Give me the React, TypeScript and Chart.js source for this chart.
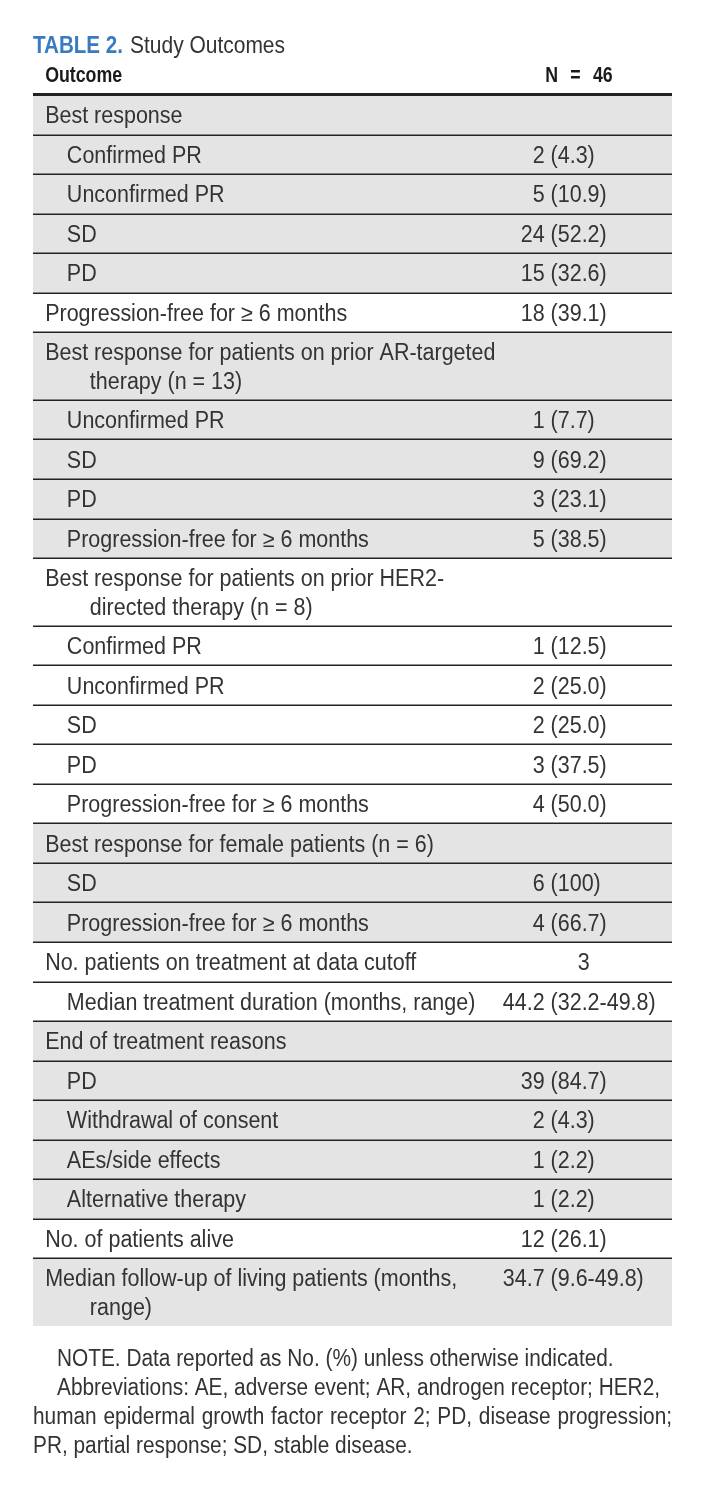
import React, { useEffect, useRef } from "react";
import { Chart, registerables } from "chart.js";

Chart.register(...registerables);

const tableNumber = "TABLE 2.";
const tableTitle = "Study Outcomes";
const columnHeaders = ["Outcome", "N = 46"];

const outcomeLabels = [
  "Best response",
  "Confirmed PR",
  "Unconfirmed PR",
  "SD",
  "PD",
  "Progression-free for ≥ 6 months",
  "Best response for patients on prior AR-targeted\ntherapy (n = 13)",
  "Unconfirmed PR",
  "SD",
  "PD",
  "Progression-free for ≥ 6 months",
  "Best response for patients on prior HER2-\ndirected therapy (n = 8)",
  "Confirmed PR",
  "Unconfirmed PR",
  "SD",
  "PD",
  "Progression-free for ≥ 6 months",
  "Best response for female patients (n = 6)",
  "SD",
  "Progression-free for ≥ 6 months",
  "No. patients on treatment at data cutoff",
  "Median treatment duration (months, range)",
  "End of treatment reasons",
  "PD",
  "Withdrawal of consent",
  "AEs/side effects",
  "Alternative therapy",
  "No. of patients alive",
  "Median follow-up of living patients (months,\nrange)",
];

const outcomeValues = [
  "", "2 (4.3)", "5 (10.9)", "24 (52.2)", "15 (32.6)",
  "18 (39.1)",
  "", "1 (7.7)", "9 (69.2)", "3 (23.1)", "5 (38.5)",
  "", "1 (12.5)", "2 (25.0)", "2 (25.0)", "3 (37.5)", "4 (50.0)",
  "", "6 (100)", "4 (66.7)",
  "3", "44.2 (32.2-49.8)",
  "", "39 (84.7)", "2 (4.3)", "1 (2.2)", "1 (2.2)",
  "12 (26.1)",
  "34.7 (9.6-49.8)",
];

// indentation level of each row (0 = section heading, 1 = sub-item)
const outcomeLevels = [0, 1, 1, 1, 1, 0, 0, 1, 1, 1, 1, 0, 1, 1, 1, 1, 1, 0, 1, 1, 0, 1, 0, 1, 1, 1, 1, 0, 0];
// section each row belongs to (sections alternate shading)
const outcomeSections = [0, 0, 0, 0, 0, 1, 2, 2, 2, 2, 2, 3, 3, 3, 3, 3, 3, 4, 4, 4, 5, 5, 6, 6, 6, 6, 6, 7, 8];

const footnoteLines = [
  "NOTE. Data reported as No. (%) unless otherwise indicated.",
  "Abbreviations: AE, adverse event; AR, androgen receptor; HER2,",
  "human epidermal growth factor receptor 2; PD, disease progression;",
  "PR, partial response; SD, stable disease.",
];
const footnoteIndents = [1, 1, 0, 0];
const footnoteJustified = [false, false, true, false];

// ---- layout / style constants ----
const W = 708;
const H = 1491;
const EXTRA_LINE = 0.72; // extra row units per wrapped line
const FONT_FAMILY = '"Liberation Sans Narrow", "Liberation Sans", Arial, sans-serif';
const BODY_FONT = `23px ${FONT_FAMILY}`;
const BOLD_FONT = `bold 22px ${FONT_FAMILY}`;
const TITLE_FONT = `24px ${FONT_FAMILY}`;
const TITLE_BOLD = `bold 24px ${FONT_FAMILY}`;
const TEXT_COLOR = "#333333";
const SHADE = "#e5e4e4";
const RULE = "#222222";
const BLUE = "#3a7bbf";

const rowUnits = outcomeLabels.map((l) => 1 + EXTRA_LINE * (l.split("\n").length - 1));
const rowTops: number[] = [];
{
  let acc = 0;
  rowUnits.forEach((u) => {
    rowTops.push(acc);
    acc += u;
  });
}
const totalUnits = rowUnits.reduce((a, b) => a + b, 0);

// x positions in percent of the table width
const X_LABEL = 1.9;
const X_INDENT = 5.3;
const X_WRAP = 8.9;
const X_PAREN = 81.0;
const X_CENTER = 86.2;

function drawScaled(ctx: CanvasRenderingContext2D, text: string, x: number, y: number, align: string, sx: number) {
  const w = ctx.measureText(text).width * sx;
  const left = align === "left" ? x : align === "right" ? x - w : x - w / 2;
  ctx.save();
  ctx.translate(left, y);
  ctx.scale(sx, 1);
  ctx.textAlign = "left";
  ctx.textBaseline = "middle";
  ctx.fillText(text, 0, 0);
  ctx.restore();
}

function drawJustified(ctx: CanvasRenderingContext2D, text: string, x0: number, x1: number, y: number, sx: number) {
  const words = text.split(" ");
  const widths = words.map((w) => ctx.measureText(w).width * sx);
  const total = widths.reduce((a, b) => a + b, 0);
  const gap = (x1 - x0 - total) / (words.length - 1);
  let x = x0;
  words.forEach((w, i) => {
    drawScaled(ctx, w, x, y, "left", sx);
    x += widths[i] + gap;
  });
}

const tablePlugin = {
  id: "tablePlugin",
  beforeDatasetsDraw(chart: any) {
    const ctx: CanvasRenderingContext2D = chart.ctx;
    const xs = chart.scales.x;
    const ys = chart.scales.y;
    const left = xs.getPixelForValue(0);
    const right = xs.getPixelForValue(100);

    ctx.save();
    ctx.font = BODY_FONT;
    const sx = 302 / ctx.measureText("Progression-free for ≥ 6 months").width;
    const sxf = 603 / ctx.measureText(footnoteLines[1]).width;
    ctx.font = BOLD_FONT;
    const sxb = Math.min(1, 77 / ctx.measureText(columnHeaders[0]).width);

    // backgrounds
    outcomeLabels.forEach((_, i) => {
      if (outcomeSections[i] % 2 === 0) {
        const t = ys.getPixelForValue(rowTops[i]);
        const b = ys.getPixelForValue(rowTops[i] + rowUnits[i]);
        ctx.fillStyle = SHADE;
        ctx.fillRect(left, t, right - left, b - t);
      }
    });

    // rules
    ctx.strokeStyle = RULE;
    for (let i = 1; i < outcomeLabels.length; i++) {
      const y = Math.round(ys.getPixelForValue(rowTops[i])) + 0.25;
      ctx.lineWidth = 1.5;
      ctx.beginPath();
      ctx.moveTo(left, y);
      ctx.lineTo(right, y);
      ctx.stroke();
    }
    const topY = ys.getPixelForValue(0);
    ctx.fillStyle = RULE;
    ctx.fillRect(left, topY - 2, right - left, 3);

    // header
    ctx.fillStyle = "#1a1a1a";
    ctx.font = BOLD_FONT;
    drawScaled(ctx, columnHeaders[0], xs.getPixelForValue(X_LABEL), topY - 19, "left", sxb);
    (ctx as any).wordSpacing = "9px";
    drawScaled(ctx, columnHeaders[1], 579, topY - 19, "center", sxb);
    (ctx as any).wordSpacing = "0px";

    // title
    ctx.font = TITLE_BOLD;
    ctx.fillStyle = BLUE;
    const sxt = 90 / ctx.measureText(tableNumber).width;
    drawScaled(ctx, tableNumber, left, topY - 49, "left", sxt);
    ctx.font = TITLE_FONT;
    ctx.fillStyle = TEXT_COLOR;
    const sxs = 155 / ctx.measureText(tableTitle).width;
    drawScaled(ctx, tableTitle, left + 97, topY - 49, "left", sxs);

    // body
    ctx.font = BODY_FONT;
    ctx.fillStyle = TEXT_COLOR;
    const lineGap = 29;
    const dy = 2;
    outcomeLabels.forEach((label, i) => {
      const t = ys.getPixelForValue(rowTops[i]);
      const b = ys.getPixelForValue(rowTops[i] + rowUnits[i]);
      const lines = label.split("\n");
      const cy0 = (t + b) / 2 - ((lines.length - 1) * lineGap) / 2 + dy;
      const base = outcomeLevels[i] === 0 ? X_LABEL : X_INDENT;
      lines.forEach((ln, j) => {
        const xv = j === 0 ? base : X_WRAP;
        drawScaled(ctx, ln, xs.getPixelForValue(xv), cy0 + j * lineGap, "left", sx);
      });
      const v = outcomeValues[i];
      if (v) {
        const p = v.indexOf("(");
        if (p >= 0) {
          const pre = v.slice(0, p);
          const preW = ctx.measureText(pre).width * sx;
          drawScaled(ctx, v, xs.getPixelForValue(X_PAREN) - preW, cy0, "left", sx);
        } else {
          drawScaled(ctx, v, xs.getPixelForValue(X_CENTER), cy0, "center", sx);
        }
      }
    });

    // footnotes
    const bottomY = ys.getPixelForValue(totalUnits);
    footnoteLines.forEach((ln, i) => {
      const x = left + (footnoteIndents[i] ? 24 : 0);
      const y = bottomY + 34 + i * 29;
      if (footnoteJustified[i]) drawJustified(ctx, ln, x, right, y, sxf);
      else drawScaled(ctx, ln, x, y, "left", sxf);
    });
    ctx.restore();
  },
};

export default function App() {
  const ref = useRef<HTMLCanvasElement | null>(null);
  useEffect(() => {
    document.body.style.margin = "0";
    const canvas = ref.current!;
    const points = outcomeLabels.map((_, i) => ({
      x: outcomeValues[i] ? X_PAREN : X_LABEL,
      y: rowTops[i] + rowUnits[i] / 2,
    }));
    const chart = new Chart(canvas, {
      type: "scatter",
      data: {
        datasets: [
          {
            data: points,
            pointRadius: 0,
            pointHoverRadius: 0,
          },
        ],
      },
      options: {
        responsive: false,
        animation: false,
        devicePixelRatio: 1,
        layout: { padding: { top: 95, left: 33, right: 36, bottom: H - 1326 } },
        plugins: { legend: { display: false }, tooltip: { enabled: false } },
        scales: {
          x: { type: "linear", min: 0, max: 100, display: false },
          y: { type: "linear", min: 0, max: totalUnits, reverse: true, display: false },
        },
      },
      plugins: [tablePlugin],
    });
    return () => chart.destroy();
  }, []);
  return (
    <div style={{ width: W, height: H, background: "#fff" }}>
      <canvas ref={ref} width={W} height={H} style={{ width: W, height: H, display: "block" }} />
    </div>
  );
}
